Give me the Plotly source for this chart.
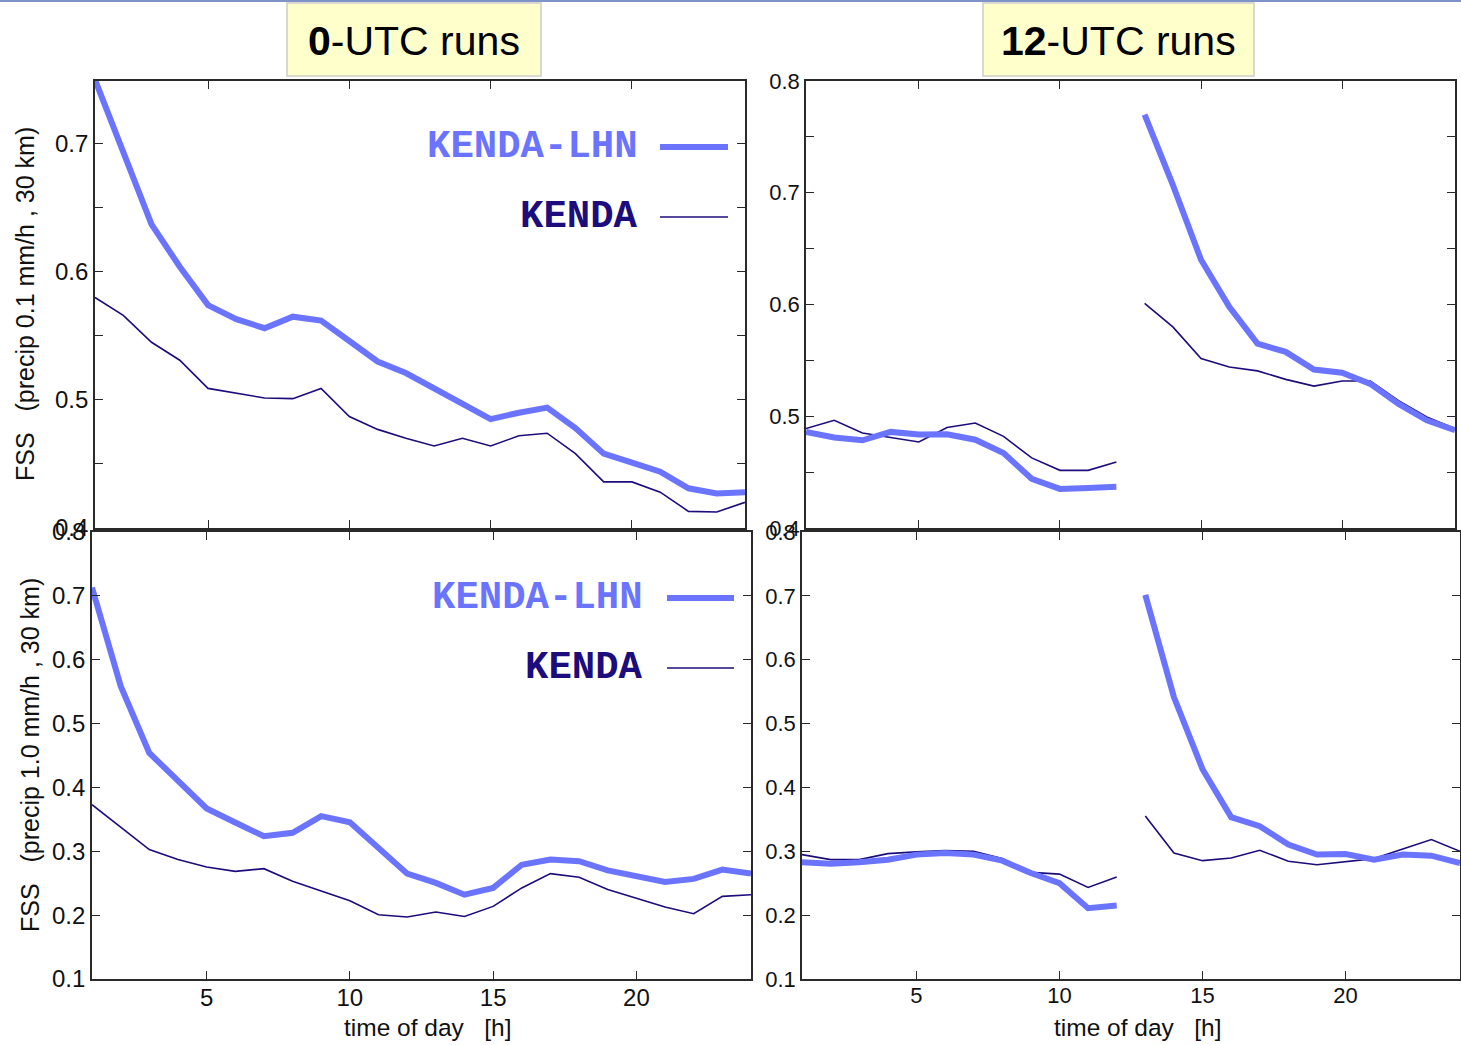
import plotly.graph_objects as go

# Forecast lead hours (time of day, h)
hours = list(range(1, 25))

# FSS for precip 0.1 mm/h, 30 km, 0-UTC runs
fss01_00_lhn = [0.750, 0.694, 0.637, 0.604, 0.574, 0.563, 0.556, 0.565, 0.562, 0.546,
                0.530, 0.521, 0.509, 0.498, 0.485, 0.490, 0.494, 0.478, 0.458, 0.451,
                0.444, 0.431, 0.427, 0.428]
fss01_00_kenda = [0.580, 0.566, 0.545, 0.531, 0.509, 0.505, 0.5015, 0.501, 0.509, 0.487,
                  0.477, 0.470, 0.464, 0.470, 0.464, 0.472, 0.474, 0.458, 0.436, 0.436,
                  0.428, 0.413, 0.4125, 0.420]

# FSS for precip 0.1 mm/h, 30 km, 12-UTC runs
fss01_12_lhn = [0.486, 0.481, 0.4785, 0.486, 0.4836, 0.4839, 0.479, 0.467, 0.444, 0.435,
                0.4358, 0.437, 0.770, 0.707, 0.640, 0.598, 0.565, 0.5576, 0.5418, 0.539,
                0.529, 0.511, 0.4964, 0.4875]
fss01_12_kenda = [0.489, 0.4964, 0.485, 0.481, 0.477, 0.490, 0.494, 0.482, 0.4627, 0.4516,
                  0.4516, 0.459, 0.601, 0.580, 0.5516, 0.544, 0.5406, 0.533, 0.527, 0.5316,
                  0.5316, 0.514, 0.4994, 0.489]

# FSS for precip 1.0 mm/h, 30 km, 0-UTC runs
fss10_00_lhn = [0.713, 0.559, 0.454, 0.410, 0.367, 0.345, 0.3235, 0.329, 0.355, 0.3455,
                0.304, 0.265, 0.2505, 0.232, 0.2426, 0.279, 0.287, 0.2845, 0.270, 0.262,
                0.252, 0.2568, 0.2714, 0.265]
fss10_00_kenda = [0.373, 0.3376, 0.3026, 0.287, 0.2754, 0.2686, 0.2728, 0.253, 0.2373, 0.2226,
                  0.2007, 0.197, 0.2049, 0.198, 0.2137, 0.2426, 0.265, 0.2593, 0.240, 0.2268,
                  0.2127, 0.2022, 0.2294, 0.232]

# FSS for precip 1.0 mm/h, 30 km, 12-UTC runs
fss10_12_lhn = [0.2827, 0.2806, 0.2827, 0.2869, 0.2948, 0.2974, 0.2948, 0.2853, 0.2659, 0.2501,
                0.2108, 0.215, 0.7016, 0.5415, 0.4286, 0.3535, 0.3394, 0.3105, 0.2948, 0.2958,
                0.2869, 0.2948, 0.2932, 0.2816]
fss10_12_kenda = [0.2948, 0.2869, 0.2869, 0.2963, 0.299, 0.301, 0.300, 0.2885, 0.267, 0.2643,
                  0.2433, 0.2596, 0.3551, 0.2974, 0.2853, 0.2895, 0.3016, 0.2843, 0.279, 0.2832,
                  0.2885, 0.3037, 0.3184, 0.300]

series_names = ["KENDA-LHN", "KENDA"]
x_ticks = [5, 10, 15, 20]

W, H = 1461, 1045
LHN_COLOR = "#6b74ff"
KENDA_COLOR = "#1c0c7c"
AXIS_COLOR = "#2a2a2a"
FONT = "Liberation Sans, Arial, sans-serif"
MONO = "Courier New, Liberation Mono, monospace"


def px_x(p):
    return p / W


def px_y(p):
    return 1 - p / H


fig = go.Figure()

# axis suffix, LHN series, KENDA series, restart at 12 UTC
panels = [
    ("", fss01_00_lhn, fss01_00_kenda, False),
    ("2", fss01_12_lhn, fss01_12_kenda, True),
    ("3", fss10_00_lhn, fss10_00_kenda, False),
    ("4", fss10_12_lhn, fss10_12_kenda, True),
]

for suffix, lhn, kenda, split in panels:
    xa = "x" + suffix
    ya = "y" + suffix
    segments = [(0, 12), (12, 24)] if split else [(0, 24)]
    for (a, b) in segments:
        fig.add_trace(go.Scatter(x=hours[a:b], y=kenda[a:b], mode="lines",
                                 line=dict(color=KENDA_COLOR, width=1.6),
                                 name=series_names[1], xaxis=xa, yaxis=ya,
                                 showlegend=False))
        fig.add_trace(go.Scatter(x=hours[a:b], y=lhn[a:b], mode="lines",
                                 line=dict(color=LHN_COLOR, width=6),
                                 name=series_names[0], xaxis=xa, yaxis=ya,
                                 showlegend=False))


def fmt_ticks(lo, hi, step, label_every):
    vals, texts = [], []
    n = int(round((hi - lo) / step))
    for i in range(n + 1):
        v = round(lo + i * step, 3)
        vals.append(v)
        texts.append(f"{v:.1f}" if i % label_every == 0 else "")
    return vals, texts


def x_axis(domain, anchor, labels, size):
    return dict(domain=domain, anchor=anchor, range=[1, 24], automargin=False,
                tickvals=x_ticks, ticktext=[str(t) for t in x_ticks],
                showticklabels=labels, ticks="inside", ticklen=8, tickwidth=1.3,
                ticklabelstandoff=-4,
                tickcolor=AXIS_COLOR, showline=True, linecolor=AXIS_COLOR,
                linewidth=1.6, mirror="ticks", showgrid=False, zeroline=False,
                tickfont=dict(family=FONT, size=size, color="#111"))


def y_axis(domain, anchor, rng, vals, texts, size):
    return dict(domain=domain, anchor=anchor, range=rng, automargin=False,
                tickvals=vals, ticktext=texts,
                ticks="inside", ticklen=8, tickwidth=1.3, tickcolor=AXIS_COLOR,
                showline=True, linecolor=AXIS_COLOR, linewidth=1.6,
                mirror="ticks", showgrid=False, zeroline=False,
                tickfont=dict(family=FONT, size=size, color="#111"))


top_dom = [px_y(528), px_y(81)]
bot_dom = [px_y(979), px_y(532)]

tv_tl, tt_tl = fmt_ticks(0.4, 0.7, 0.05, 2)
tv_tr, tt_tr = fmt_ticks(0.4, 0.8, 0.05, 2)
tv_b, tt_b = fmt_ticks(0.1, 0.8, 0.1, 1)

fig.update_layout(
    template="none",
    width=W, height=H,
    margin=dict(l=0, r=0, t=0, b=0, pad=0, autoexpand=False),
    paper_bgcolor="white", plot_bgcolor="white",
    showlegend=False,
    xaxis=x_axis([px_x(95), px_x(745)], "y", False, 24),
    yaxis=y_axis(top_dom, "x", [0.4, 0.749], tv_tl, tt_tl, 24),
    xaxis2=x_axis([px_x(806), px_x(1455)], "y2", False, 22),
    yaxis2=y_axis(top_dom, "x2", [0.4, 0.8], tv_tr, tt_tr, 22),
    xaxis3=x_axis([px_x(92), px_x(751)], "y3", True, 24),
    yaxis3=y_axis(bot_dom, "x3", [0.1, 0.8], tv_b, tt_b, 24),
    xaxis4=x_axis([px_x(802), px_x(1460)], "y4", True, 22),
    yaxis4=y_axis(bot_dom, "x4", [0.1, 0.8], tv_b, tt_b, 22),
)

shapes = []
annotations = []

# thin rule along the top of the page
shapes.append(dict(type="line", xref="paper", yref="paper", x0=0, x1=1,
                   y0=px_y(1), y1=px_y(1), line=dict(color="#7f93c9", width=2)))

# run-time title boxes
for (x0, x1, bold, rest) in [(287, 541, "0", "-UTC runs"), (983, 1254, "12", "-UTC runs")]:
    shapes.append(dict(type="rect", xref="paper", yref="paper",
                       x0=px_x(x0), x1=px_x(x1), y0=px_y(76), y1=px_y(3),
                       fillcolor="#ffffcc", line=dict(color="#d9d9cf", width=2),
                       layer="below"))
    annotations.append(dict(xref="paper", yref="paper", x=px_x((x0 + x1) / 2),
                            y=px_y(41), xanchor="center", yanchor="middle",
                            text=f"<b>{bold}</b>{rest}", showarrow=False,
                            font=dict(family=FONT, size=41, color="black")))

# series key inside the left panels
legend_rows = [
    # (text right edge, line x0, line x1, y LHN, y KENDA)
    (640, 660, 728, 147, 217),
    (645, 667, 734, 598, 668),
]
for (tx, lx0, lx1, y_lhn, y_k) in legend_rows:
    annotations.append(dict(xref="paper", yref="paper", x=px_x(tx), y=px_y(y_lhn),
                            xanchor="right", yanchor="middle", showarrow=False,
                            text=f"<b>{series_names[0]}</b>",
                            font=dict(family=MONO, size=39, color=LHN_COLOR)))
    annotations.append(dict(xref="paper", yref="paper", x=px_x(tx), y=px_y(y_k),
                            xanchor="right", yanchor="middle", showarrow=False,
                            text=f"<b>{series_names[1]}</b>",
                            font=dict(family=MONO, size=39, color=KENDA_COLOR)))
    shapes.append(dict(type="line", xref="paper", yref="paper",
                       x0=px_x(lx0), x1=px_x(lx1), y0=px_y(y_lhn), y1=px_y(y_lhn),
                       line=dict(color=LHN_COLOR, width=6)))
    shapes.append(dict(type="line", xref="paper", yref="paper",
                       x0=px_x(lx0), x1=px_x(lx1), y0=px_y(y_k), y1=px_y(y_k),
                       line=dict(color=KENDA_COLOR, width=1.6)))

sp = "\u00a0"
# y-axis titles
annotations.append(dict(xref="paper", yref="paper", x=px_x(25), y=px_y(304),
                        xanchor="center", yanchor="middle", textangle=-90,
                        showarrow=False,
                        text=f"FSS{sp*3}(precip 0.1 mm/h , 30 km)",
                        font=dict(family=FONT, size=25, color="#111")))
annotations.append(dict(xref="paper", yref="paper", x=px_x(30), y=px_y(755),
                        xanchor="center", yanchor="middle", textangle=-90,
                        showarrow=False,
                        text=f"FSS{sp*3}(precip 1.0 mm/h , 30 km)",
                        font=dict(family=FONT, size=25, color="#111")))

# x-axis titles
annotations.append(dict(xref="paper", yref="paper", x=px_x(428), y=px_y(1027),
                        xanchor="center", yanchor="middle", showarrow=False,
                        text=f"time of day{sp*3}[h]",
                        font=dict(family=FONT, size=24.5, color="#111")))
annotations.append(dict(xref="paper", yref="paper", x=px_x(1138), y=px_y(1027),
                        xanchor="center", yanchor="middle", showarrow=False,
                        text=f"time of day{sp*3}[h]",
                        font=dict(family=FONT, size=24.5, color="#111")))

fig.update_layout(shapes=shapes, annotations=annotations)

fig.write_html("out.html")
